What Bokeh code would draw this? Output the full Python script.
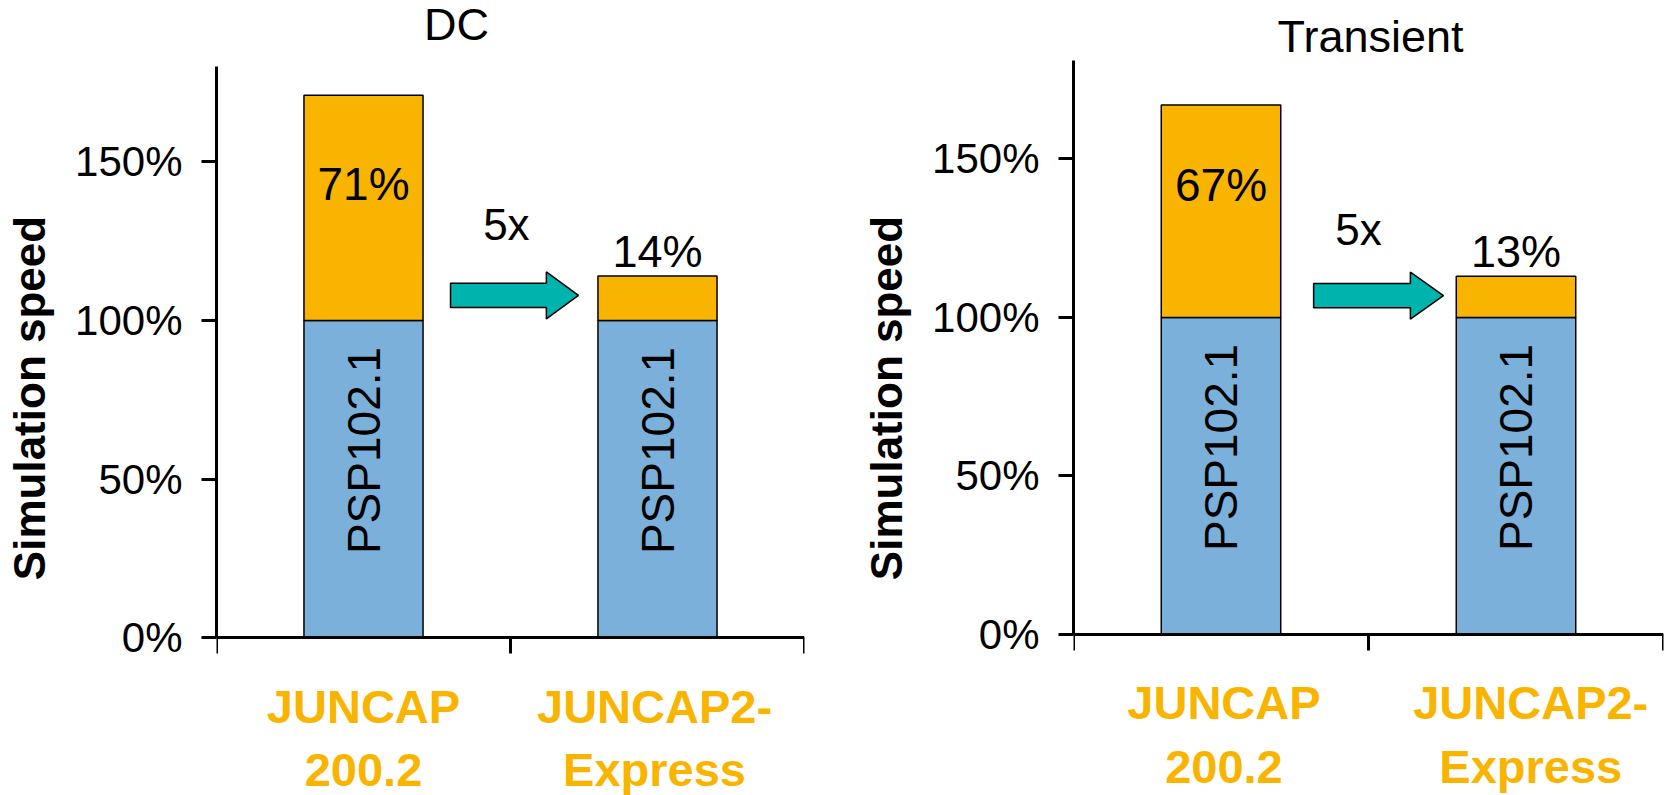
import math
from bokeh.plotting import figure
from bokeh.layouts import row
from bokeh.models import FixedTicker, NumeralTickFormatter, Range1d
from bokeh.core.properties import value
from bokeh.embed import file_html
from bokeh.resources import INLINE

# ---------------- data ----------------
panel_titles = ["DC", "Transient"]
categories = ["JUNCAP\n200.2", "JUNCAP2-\nExpress"]
base_name = "PSP102.1"
base_speed = [1.00, 1.00]              # PSP102.1 share of each bar
dc_overhead = [0.71, 0.14]             # junction model overhead, DC
tran_overhead = [0.67, 0.13]           # junction model overhead, Transient
dc_overhead_labels = ["71%", "14%"]
tran_overhead_labels = ["67%", "13%"]
speedup_label = "5x"
y_ticks = [0.0, 0.5, 1.0, 1.5]
bar_centers = [0.5, 1.5]
category_edges = [0, 1, 2]

# ---------------- style / layout ----------------
FONT = "Liberation Sans"
ORANGE = "#F9B400"
BLUE = "#7BB0DA"
TEAL = "#00B4AE"

panel_cfg = [
    dict(width=850, mbl=216, mbr=46, y_start=-0.498, y_end=2.009, axis_top=1.80,
         in_label_y=1.429, above_off=0.077, sx_x=0.986, sx_y=1.302,
         title_x=0.816, title_y=1.933, cat_x=[0.5, 1.49],
         arrow=dict(x0=0.796, hb=1.122, tip=1.231, yc=1.079, sh=0.038, hh=0.074)),
    dict(width=818, mbl=223, mbr=5, y_start=-0.508, y_end=2.000, axis_top=1.81,
         in_label_y=1.419, above_off=0.078, sx_x=0.966, sx_y=1.277,
         title_x=1.007, title_y=1.886, cat_x=[0.51, 1.55],
         arrow=dict(x0=0.814, hb=1.142, tip=1.254, yc=1.069, sh=0.038, hh=0.074)),
]


def make_panel(title, overheads, labels, cfg):
    p = figure(width=cfg["width"], height=795,
               x_range=Range1d(0, 2), y_range=Range1d(cfg["y_start"], cfg["y_end"]),
               output_backend="svg", toolbar_location=None,
               min_border_left=cfg["mbl"], min_border_right=cfg["mbr"],
               min_border_top=0, min_border_bottom=0)
    p.outline_line_color = None
    p.xgrid.visible = False
    p.ygrid.visible = False
    p.background_fill_color = "white"
    p.border_fill_color = "white"

    tops = [b + o for b, o in zip(base_speed, overheads)]
    p.vbar(x=bar_centers, width=0.405, bottom=0, top=base_speed,
           fill_color=BLUE, line_color="black", line_width=1.5)
    p.vbar(x=bar_centers, width=0.405, bottom=base_speed, top=tops,
           fill_color=ORANGE, line_color="black", line_width=1.5)

    txt = dict(text_font=value(FONT), text_color="black")
    p.text(x=bar_centers, y=[0.59, 0.59], text=[base_name] * 2, angle=math.pi / 2,
           text_align="center", text_baseline="middle", text_font_size="46px", **txt)
    p.text(x=[bar_centers[0]], y=[cfg["in_label_y"]], text=[labels[0]],
           text_align="center", text_baseline="alphabetic", text_font_size="46px", **txt)
    p.text(x=[bar_centers[1]], y=[tops[1] + cfg["above_off"]], text=[labels[1]],
           text_align="center", text_baseline="alphabetic", text_font_size="45px", **txt)
    p.text(x=[cfg["sx_x"]], y=[cfg["sx_y"]], text=[speedup_label],
           text_align="center", text_baseline="alphabetic", text_font_size="44px", **txt)
    p.text(x=[cfg["title_x"]], y=[cfg["title_y"]], text=[title],
           text_align="center", text_baseline="alphabetic", text_font_size="45px", **txt)

    a = cfg["arrow"]
    xs = [a["x0"], a["hb"], a["hb"], a["tip"], a["hb"], a["hb"], a["x0"]]
    ys = [a["yc"] - a["sh"], a["yc"] - a["sh"], a["yc"] - a["hh"], a["yc"],
          a["yc"] + a["hh"], a["yc"] + a["sh"], a["yc"] + a["sh"]]
    p.patch(xs, ys, fill_color=TEAL, line_color="black", line_width=1.5)

    # x axis drawn at y = 0 inside the (extended) frame
    xa = p.xaxis[0]
    xa.fixed_location = 0
    xa.ticker = FixedTicker(ticks=cfg["cat_x"], minor_ticks=category_edges)
    xa.major_label_overrides = {cfg["cat_x"][0]: categories[0],
                                cfg["cat_x"][1]: categories[1]}
    xa.major_tick_line_color = None
    xa.major_tick_in = 0
    xa.major_tick_out = 0
    xa.minor_tick_in = 0
    xa.minor_tick_out = 16
    xa.minor_tick_line_width = 3
    xa.minor_tick_line_color = "black"
    xa.axis_line_width = 3
    xa.axis_line_color = "black"
    xa.major_label_standoff = 26
    xa.major_label_text_font = FONT
    xa.major_label_text_font_size = "47px"
    xa.major_label_text_font_style = "bold"
    xa.major_label_text_color = ORANGE

    ya = p.yaxis[0]
    ya.ticker = FixedTicker(ticks=y_ticks, minor_ticks=[])
    ya.formatter = NumeralTickFormatter(format="0%")
    ya.bounds = (0, cfg["axis_top"])
    ya.major_tick_in = 0
    ya.major_tick_out = 15
    ya.major_tick_line_width = 3
    ya.minor_tick_line_color = None
    ya.axis_line_width = 3
    ya.axis_line_color = "black"
    ya.major_label_standoff = 19
    ya.major_label_text_font = FONT
    ya.major_label_text_font_size = "42px"
    ya.major_label_text_color = "black"
    ya.axis_label = "Simulation speed"
    ya.axis_label_text_font = FONT
    ya.axis_label_text_font_size = "44px"
    ya.axis_label_text_font_style = "bold"
    ya.axis_label_text_color = "black"
    ya.axis_label_standoff = 18
    return p


p1 = make_panel(panel_titles[0], dc_overhead, dc_overhead_labels, panel_cfg[0])
p2 = make_panel(panel_titles[1], tran_overhead, tran_overhead_labels, panel_cfg[1])
layout = row(p1, p2)

open("out.html", "w").write(file_html(layout, INLINE))
